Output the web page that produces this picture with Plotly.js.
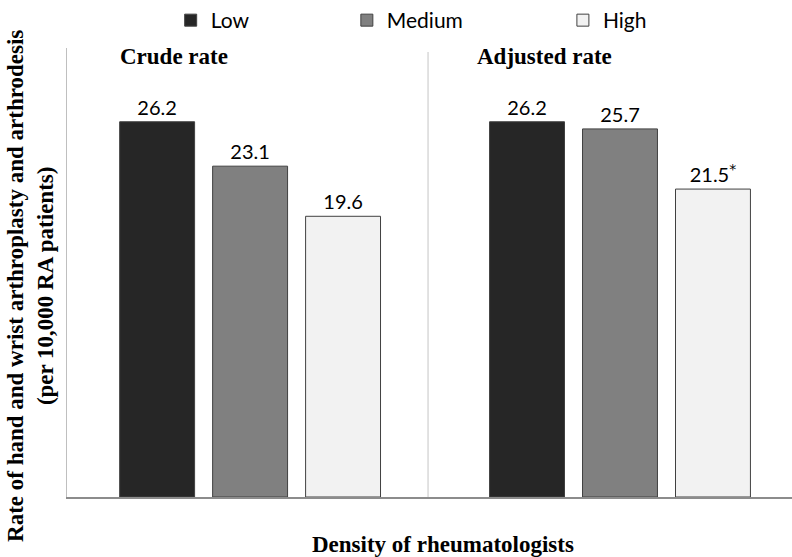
<!DOCTYPE html>
<html>
<head>
<meta charset="utf-8">
<script src="https://cdn.plot.ly/plotly-3.0.1.min.js"></script>
<style>html,body{margin:0;padding:0;background:#fff;}#chart{width:792px;height:557px;}</style>
</head>
<body>
<div id="chart"></div>
<script>
// ---- data ----
var categories = ["Crude rate", "Adjusted rate"];
var seriesNames = ["Low", "Medium", "High"];
var lowValues = [26.2, 26.2];
var mediumValues = [23.1, 25.7];
var highValues = [19.6, 21.5];
var highLabels = ["19.6", "21.5<sup><span style='font-family:DejaVu Sans'>*</span></sup>"];
var yTitleLines = ["Rate of hand and wrist arthroplasty and arthrodesis", "(per 10,000 RA patients)"];
var xTitle = "Density of rheumatologists";

// ---- styles ----
var colors = ["#262626", "#808080", "#f2f2f2"];
var labelFont = {family: "Lato, 'Noto Sans', sans-serif", size: 20, color: "#000"};
var legendFont = {family: "Lato, 'Noto Sans', sans-serif", size: 21, color: "#000"};
var serifBold = "'Liberation Serif', 'Times New Roman', serif";

function fmt(v) { return v.toFixed(1); }

var valueSets = [lowValues, mediumValues, highValues];
var labelSets = [lowValues.map(fmt), mediumValues.map(fmt), highLabels];
var legendIds = ["legend", "legend2", "legend3"];

var traces = seriesNames.map(function (name, i) {
  return {
    type: "bar",
    name: name,
    x: categories,
    y: valueSets[i],
    text: labelSets[i],
    textposition: "outside",
    textfont: labelFont,
    cliponaxis: false,
    hoverinfo: "skip",
    legend: legendIds[i],
    marker: {color: colors[i], line: {color: "#404040", width: 1}}
  };
});

function legendAt(x) {
  return {
    x: x, y: 1.062, xanchor: "left", yanchor: "middle",
    orientation: "h", font: legendFont, bgcolor: "rgba(0,0,0,0)",
    itemwidth: 30
  };
}

var annotations = categories.map(function (c, i) {
  return {
    text: "<b>" + c + "</b>", x: i, xref: "x", xshift: -76,
    y: 1.0, yref: "paper", yanchor: "middle", yshift: -8,
    showarrow: false, font: {family: serifBold, size: 23, color: "#000"}
  };
});
annotations.push({
  text: "<b>" + yTitleLines.join("<br>") + "</b>",
  textangle: -90, x: 0, xref: "paper", xanchor: "center", xshift: -36,
  y: 0.47, yref: "paper", yanchor: "middle",
  showarrow: false, font: {family: serifBold, size: 23, color: "#000"}
});
annotations.push({
  text: "<b>" + xTitle + "</b>",
  x: 0.519, xref: "paper", xanchor: "center",
  y: -0.105, yref: "paper", yanchor: "middle",
  showarrow: false, font: {family: serifBold, size: 23, color: "#000"}
});

var layout = {
  width: 792, height: 557,
  margin: {l: 67, r: 0, t: 48, b: 60},
  paper_bgcolor: "#fff", plot_bgcolor: "#fff",
  barmode: "group", bargap: 0.246, bargroupgap: 0.194,
  showlegend: true,
  legend: legendAt(0.143),
  legend2: legendAt(0.386),
  legend3: legendAt(0.684),
  xaxis: {
    type: "category", range: [-0.495, 1.465],
    showline: true, linecolor: "#8c8c8c", linewidth: 1.5,
    showticklabels: false, ticks: "", showgrid: false, zeroline: false
  },
  yaxis: {
    range: [0, 31.35], showline: true, linecolor: "#bfbfbf", linewidth: 1,
    showticklabels: false, ticks: "", showgrid: false, zeroline: false
  },
  shapes: [{
    type: "line", xref: "paper", yref: "paper",
    x0: 0.498, x1: 0.498, y0: 0, y1: 0.991,
    line: {color: "#d9d9d9", width: 1.5}
  }],
  annotations: annotations
};

Plotly.newPlot("chart", traces, layout, {displayModeBar: false, staticPlot: true});
</script>
</body>
</html>
